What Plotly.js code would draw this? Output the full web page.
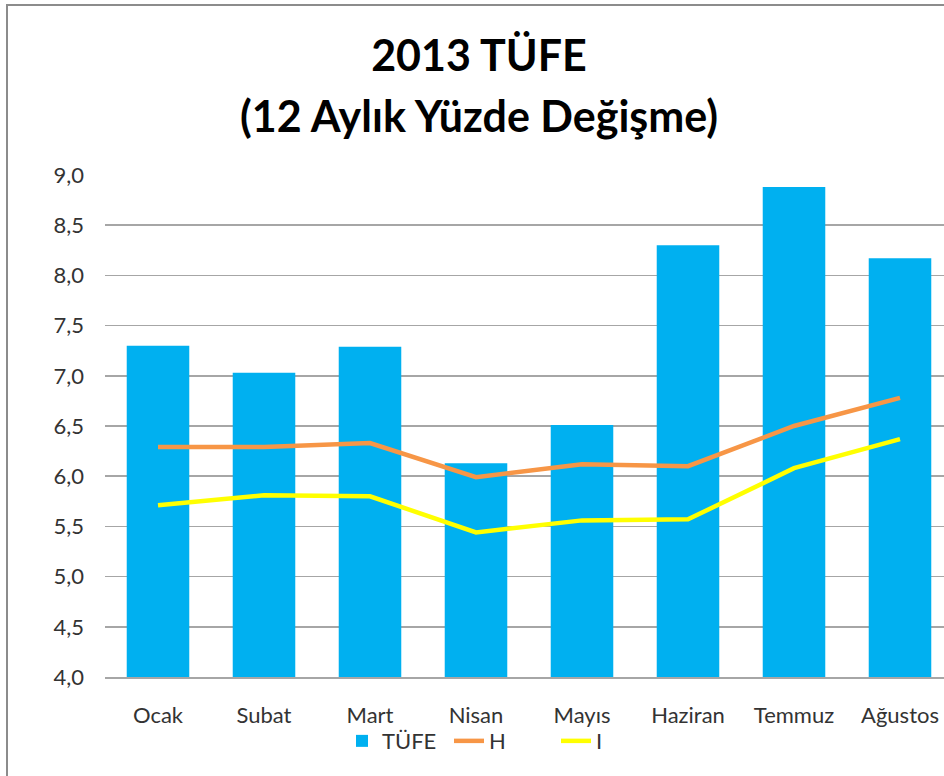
<!DOCTYPE html>
<html>
<head>
<meta charset="utf-8">
<script src="https://cdn.plot.ly/plotly-3.0.1.min.js"></script>
<style>
html,body{margin:0;padding:0;overflow:hidden;background:#fff;}
#wrap{position:absolute;left:0;top:0;width:944px;height:776px;overflow:hidden;}
#frame{position:absolute;left:6px;top:4px;width:1000px;height:900px;border:2px solid #8c8c8c;box-sizing:border-box;}
#chart{position:absolute;left:0;top:0;width:970px;height:776px;}
</style>
</head>
<body>
<div id="wrap">
<div id="frame"></div>
<div id="chart"></div>
</div>
<script>
const months = ["Ocak","Subat","Mart","Nisan","Mayıs","Haziran","Temmuz","Ağustos"];
const tufe = [7.30, 7.03, 7.29, 6.13, 6.51, 8.30, 8.88, 8.17];
const hIndex = [6.29, 6.29, 6.33, 5.99, 6.12, 6.10, 6.50, 6.78];
const iIndex = [5.71, 5.81, 5.80, 5.44, 5.56, 5.57, 6.08, 6.37];
const yTicks = [4.0,4.5,5.0,5.5,6.0,6.5,7.0,7.5,8.0,8.5,9.0];
const titleLine1 = "2013 TÜFE";
const titleLine2 = "(12 Aylık Yüzde Değişme)";

const FONT = "Lato, 'Open Sans', sans-serif";
const data = [
  {type:'bar', name:'TÜFE', x:months, y:tufe, marker:{color:'#00B0F0'}},
  {type:'scatter', mode:'lines', name:'H', x:months, y:hIndex, line:{color:'#F79646', width:4.5}},
  {type:'scatter', mode:'lines', name:'I', x:months, y:iIndex, line:{color:'#FFFF00', width:4.5}}
];
const titleFont = {family:FONT, size:43, color:'#000', weight:700};
const layout = {
  width:970, height:776,
  margin:{l:105, r:17, t:175, b:99},
  paper_bgcolor:'rgba(0,0,0,0)', plot_bgcolor:'rgba(0,0,0,0)',
  font:{family:FONT, color:'#333', size:22},
  title:{text:titleLine1, font:titleFont,
         x:479/970, xref:'container', xanchor:'center', y:1-56/776, yref:'container', yanchor:'middle'},
  annotations:[
    {text:titleLine2, font:titleFont, xref:'paper', yref:'paper', x:(479-105)/848, y:(677-116)/501.5,
     xanchor:'center', yanchor:'middle', showarrow:false}
  ],
  bargap:0.41,
  showlegend:true,
  legend:{orientation:'h', x:(342-105)/848, xanchor:'left', y:-(741-677)/501.5, yanchor:'middle',
          font:{size:22, color:'#333'}, traceorder:'normal', entrywidth:62, entrywidthmode:'pixels'},
  xaxis:{type:'category', range:[-0.5,7.5], showgrid:false, showline:true, linecolor:'#a6a6a6', linewidth:1.5,
         ticks:'', ticklabelstandoff:18, tickfont:{size:22, color:'#333'}, fixedrange:true},
  yaxis:{range:[4,9], tickvals:yTicks, tickformat:'.1f', showgrid:true, gridcolor:'#a6a6a6', gridwidth:1.5,
         zeroline:false, showline:false, ticks:'', ticklabelstandoff:20, tickfont:{size:22, color:'#333'}, fixedrange:true},
  separators:',.'
};
Plotly.newPlot('chart', data, layout, {displayModeBar:false, staticPlot:true});
</script>
</body>
</html>
